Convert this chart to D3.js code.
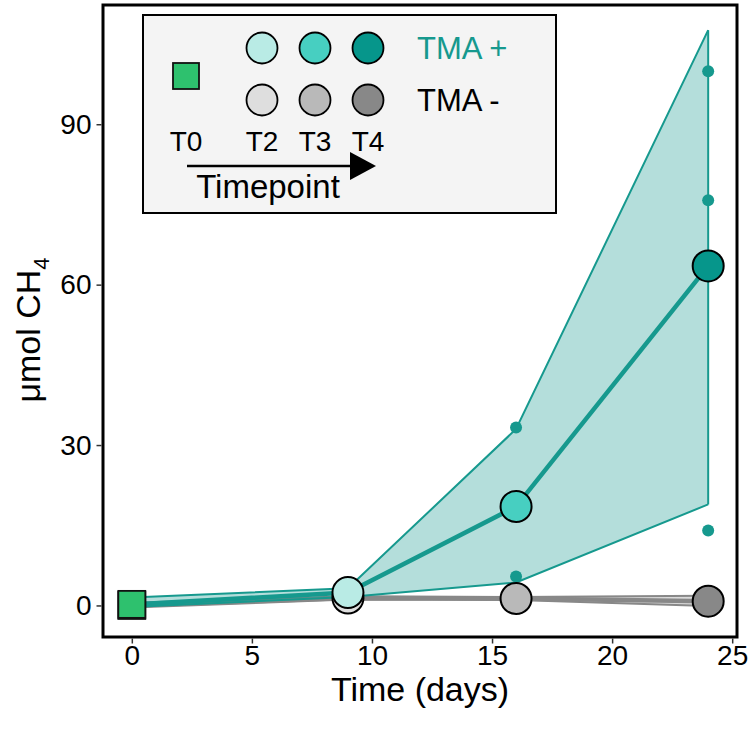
<!DOCTYPE html>
<html>
<head>
<meta charset="utf-8">
<script src="https://cdn.jsdelivr.net/npm/d3@7"></script>
<style>
  html, body { margin: 0; padding: 0; background: #fff; }
  svg { display: block; font-family: "Liberation Sans", Arial, sans-serif; }
</style>
</head>
<body>
<svg id="chart" width="750" height="730"></svg>
<script>
// ---- data ----
const days = [0, 9, 16, 24];
const timepoints = ["T0", "T2", "T3", "T4"];
const tmaPlusMean = [0.2, 2.4, 18.5, 63.5];
const tmaPlusLow  = [-0.3, 1.6, 4.3, 18.9];
const tmaPlusHigh = [1.5, 3.2, 33.0, 107.6];
const tmaMinusMean = [0.0, 1.4, 1.3, 0.8];
const tmaMinusLow  = [-0.4, 1.1, 1.0, -0.1];
const tmaMinusHigh = [0.5, 1.7, 1.6, 1.8];
const tmaPlusRepDays = [9, 9, 9, 16, 16, 16, 24, 24, 24];
const tmaPlusRepVals = [2.0, 2.5, 2.7, 33.3, 5.4, 16.8, 99.9, 75.8, 14.0];
const xTicks = [0, 5, 10, 15, 20, 25];
const yTicks = [0, 30, 60, 90];
const plusColors  = ["#2ec16e", "#b9ebe5", "#47cfc1", "#06968b"];
const minusColors = ["#2ec16e", "#dedede", "#b9b9b9", "#888888"];
const teal = "#16998e";
const grey = "#888888";

const svg = d3.select("#chart");
const L = 103, R = 737, T = 5, B = 637;
const x = d3.scaleLinear().domain([-1.2, 25.2]).range([L, R]);
const y = d3.scaleLinear().domain([-5.9, 112.3]).range([B, T]);

const plot = svg.append("g");

function group(mean, low, high, color, fillOpacity) {
  const pts = days.map((d, i) => ({d, m: mean[i], lo: low[i], hi: high[i], i}));
  plot.append("path").datum(pts)
    .attr("d", d3.area().x(p => x(p.d)).y0(p => y(p.lo)).y1(p => y(p.hi)))
    .attr("fill", color).attr("fill-opacity", fillOpacity).attr("stroke", "none");
  plot.append("path").datum(pts)
    .attr("d", d3.line().x(p => x(p.d)).y(p => y(p.hi)))
    .attr("fill", "none").attr("stroke", color).attr("stroke-width", 2);
  plot.append("path").datum(pts)
    .attr("d", d3.line().x(p => x(p.d)).y(p => y(p.lo)))
    .attr("fill", "none").attr("stroke", color).attr("stroke-width", 2);
  const last = pts[pts.length - 1];
  plot.append("line")
    .attr("x1", x(last.d)).attr("x2", x(last.d))
    .attr("y1", y(last.lo)).attr("y2", y(last.hi))
    .attr("stroke", color).attr("stroke-width", 2);
  plot.append("path").datum(pts)
    .attr("d", d3.line().x(p => x(p.d)).y(p => y(p.m)))
    .attr("fill", "none").attr("stroke", color).attr("stroke-width", 4.5);
  return pts;
}

const minusPts = group(tmaMinusMean, tmaMinusLow, tmaMinusHigh, grey, 0.3);
const plusPts = group(tmaPlusMean, tmaPlusLow, tmaPlusHigh, teal, 0.32);

plot.selectAll("circle.rep").data(tmaPlusRepVals).enter().append("circle")
  .attr("class", "rep")
  .attr("cx", (v, i) => x(tmaPlusRepDays[i])).attr("cy", v => y(v))
  .attr("r", 6).attr("fill", teal);

function markers(pts, colors) {
  pts.forEach(p => {
    if (p.i === 0) {
      plot.append("rect")
        .attr("x", x(p.d) - 13.5).attr("y", y(p.m) - 13.5)
        .attr("width", 27).attr("height", 27)
        .attr("fill", colors[0]).attr("stroke", "#111").attr("stroke-width", 1.8);
    } else {
      plot.append("circle")
        .attr("cx", x(p.d)).attr("cy", y(p.m)).attr("r", 15.5)
        .attr("fill", colors[p.i]).attr("stroke", "#000").attr("stroke-width", 2);
    }
  });
}
markers(minusPts, minusColors);
markers(plusPts, plusColors);

// panel border
svg.append("rect").attr("x", L).attr("y", T).attr("width", R - L).attr("height", B - T)
  .attr("fill", "none").attr("stroke", "#000").attr("stroke-width", 3);

// axes
const xAxis = svg.append("g").attr("transform", `translate(0,${B + 1.5})`)
  .call(d3.axisBottom(x).tickValues(xTicks).tickSize(5).tickPadding(2));
const yAxis = svg.append("g").attr("transform", `translate(${L - 1.5},0)`)
  .call(d3.axisLeft(y).tickValues(yTicks).tickSize(5).tickPadding(5));
[xAxis, yAxis].forEach(a => {
  a.select(".domain").remove();
  a.selectAll(".tick line").attr("stroke", "#333").attr("stroke-width", 1.5);
  a.selectAll(".tick text").attr("fill", "#000").style("font-size", "28px")
    .style("font-family", "'Liberation Sans', Arial, sans-serif");
});

// axis titles
svg.append("text").attr("x", 420).attr("y", 701)
  .attr("text-anchor", "middle").style("font-size", "34px").text("Time (days)");
const yt = svg.append("text")
  .attr("transform", `translate(40,330) rotate(-90)`)
  .attr("text-anchor", "middle").style("font-size", "34px");
yt.append("tspan").text("μmol CH");
yt.append("tspan").attr("dy", 9).style("font-size", "22px").text("4");

// legend
const lg = svg.append("g");
lg.append("rect").attr("x", 143).attr("y", 15).attr("width", 413).attr("height", 198)
  .attr("fill", "#f4f4f4").attr("stroke", "#000").attr("stroke-width", 2);
const lgX = [186, 262, 315, 368];
lg.append("rect").attr("x", lgX[0] - 13).attr("y", 63).attr("width", 26).attr("height", 26)
  .attr("fill", plusColors[0]).attr("stroke", "#111").attr("stroke-width", 1.8);
[1, 2, 3].forEach(i => {
  lg.append("circle").attr("cx", lgX[i]).attr("cy", 48).attr("r", 15.5)
    .attr("fill", plusColors[i]).attr("stroke", "#000").attr("stroke-width", 1.8);
  lg.append("circle").attr("cx", lgX[i]).attr("cy", 100).attr("r", 15.5)
    .attr("fill", minusColors[i]).attr("stroke", "#000").attr("stroke-width", 1.8);
});
timepoints.forEach((t, i) => {
  lg.append("text").attr("x", lgX[i]).attr("y", 151).attr("text-anchor", "middle")
    .style("font-size", "28px").text(t);
});
lg.append("line").attr("x1", 187).attr("x2", 354).attr("y1", 166).attr("y2", 166)
  .attr("stroke", "#000").attr("stroke-width", 2.5);
lg.append("path").attr("d", "M350,152 L376,166 L350,180 Z").attr("fill", "#000");
lg.append("text").attr("x", 268).attr("y", 198).attr("text-anchor", "middle")
  .style("font-size", "33px").text("Timepoint");
lg.append("text").attr("x", 417).attr("y", 59).style("font-size", "31px")
  .attr("fill", teal).text("TMA +");
lg.append("text").attr("x", 417).attr("y", 111).style("font-size", "31px")
  .attr("fill", "#000").text("TMA -");
</script>
</body>
</html>
